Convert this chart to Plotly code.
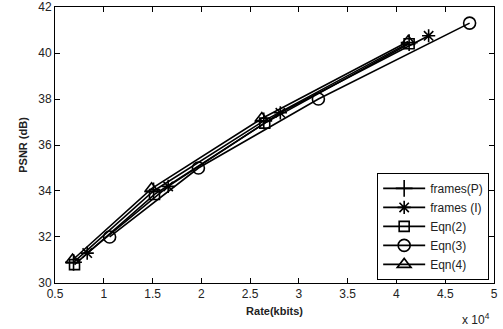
import plotly.graph_objects as go

# Data (rate in kbits, PSNR in dB)
rate_frames_p = [6900, 15100, 26400, 41300]
psnr_frames_p = [30.9, 34.0, 37.05, 40.45]

rate_frames_i = [8300, 16600, 28100, 43300]
psnr_frames_i = [31.3, 34.2, 37.4, 40.75]

rate_eqn2 = [7000, 15200, 26500, 41300]
psnr_eqn2 = [30.8, 33.85, 36.95, 40.4]

rate_eqn3 = [10600, 19700, 32000, 47500]
psnr_eqn3 = [32.0, 35.0, 38.0, 41.3]

rate_eqn4 = [6800, 14900, 26200, 41200]
psnr_eqn4 = [31.0, 34.1, 37.15, 40.5]

x_tickvals = [5000, 10000, 15000, 20000, 25000, 30000, 35000, 40000, 45000, 50000]
x_ticktext = ["0.5", "1", "1.5", "2", "2.5", "3", "3.5", "4", "4.5", "5"]
y_tickvals = [30, 32, 34, 36, 38, 40, 42]

series = [
    ("frames(P)", rate_frames_p, psnr_frames_p, "cross-thin-open", 12),
    ("frames (I)", rate_frames_i, psnr_frames_i, "asterisk-open", 11),
    ("Eqn(2)", rate_eqn2, psnr_eqn2, "square-open", 10),
    ("Eqn(3)", rate_eqn3, psnr_eqn3, "circle-open", 12),
    ("Eqn(4)", rate_eqn4, psnr_eqn4, "triangle-up-open", 12),
]

fig = go.Figure()
for name, xs, ys, sym, sz in series:
    fig.add_trace(go.Scatter(
        x=xs, y=ys, name=name, mode="lines+markers",
        line=dict(color="black", width=1.6),
        marker=dict(symbol=sym, size=sz, color="black",
                    line=dict(color="black", width=1.6)),
    ))

font_family = "Liberation Sans, Arial, sans-serif"
fig.update_layout(
    width=503, height=329,
    margin=dict(l=55, r=9, t=7, b=46, autoexpand=False),
    paper_bgcolor="white", plot_bgcolor="white",
    font=dict(family=font_family, size=12, color="#222"),
    showlegend=True,
    legend=dict(
        x=0.989, y=0.205, xanchor="right", yanchor="middle",
        bgcolor="white", bordercolor="black", borderwidth=1,
        font=dict(size=12, color="#222"),
        tracegroupgap=0, itemwidth=42,
    ),
    xaxis=dict(
        range=[4999.5, 50000.5], tickvals=x_tickvals, ticktext=x_ticktext,
        showgrid=False, zeroline=False, showline=True, linecolor="black",
        linewidth=1, mirror="allticks", ticks="inside", ticklen=5,
        tickcolor="black", automargin=False,
        title=dict(text="<b>Rate(kbits)</b>", font=dict(size=11), standoff=6),
    ),
    yaxis=dict(
        range=[29.999, 42.001], tickvals=y_tickvals,
        showgrid=False, zeroline=False, showline=True, linecolor="black",
        linewidth=1, mirror="allticks", ticks="inside", ticklen=5,
        tickcolor="black", automargin=False,
        title=dict(text="<b>PSNR (dB)</b>", font=dict(size=11), standoff=8),
    ),
    annotations=[dict(
        text="x 10<sup>4</sup>", xref="paper", yref="paper",
        x=0.995, y=-0.095, xanchor="right", yanchor="top",
        showarrow=False, font=dict(size=12, color="#222"),
    )],
)

fig.write_html("out.html",
               config={"displayModeBar": False},
               post_script="document.body.style.margin='0';document.body.style.padding='0';")
